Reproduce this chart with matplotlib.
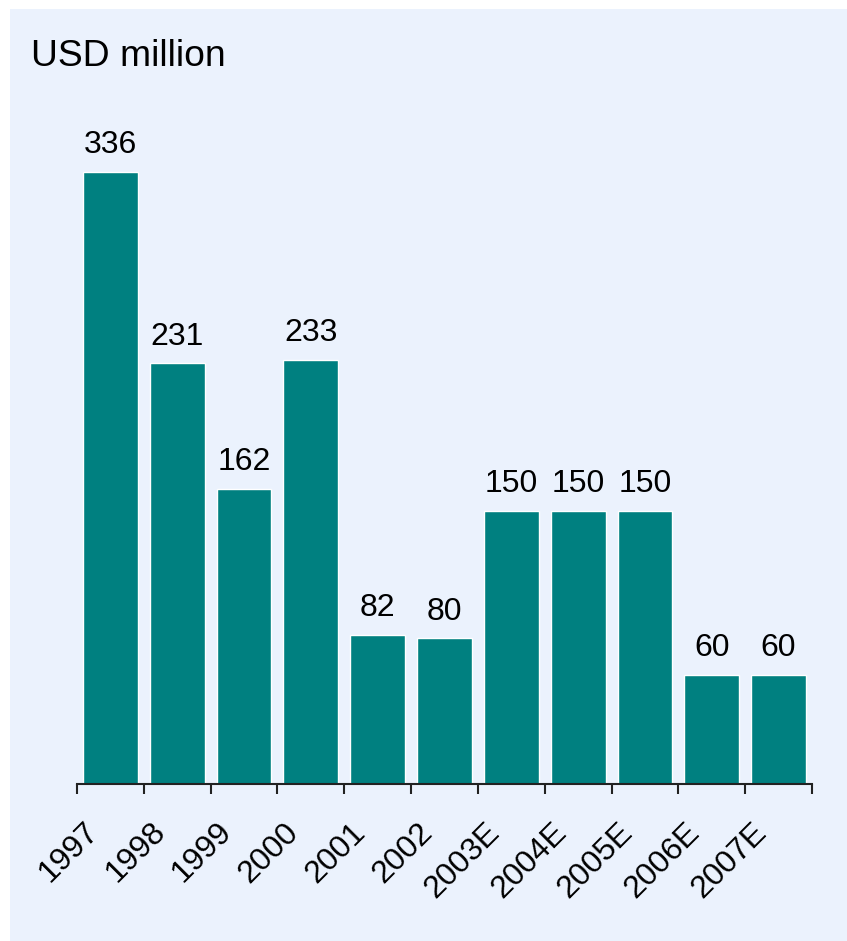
import matplotlib
matplotlib.use("Agg")
import matplotlib.pyplot as plt
from matplotlib.patches import Rectangle
from matplotlib.transforms import ScaledTranslation
import numpy as np

years = ["1997", "1998", "1999", "2000", "2001", "2002", "2003E", "2004E", "2005E", "2006E", "2007E"]
values = [336, 231, 162, 233, 82, 80, 150, 150, 150, 60, 60]

BG = "#EBF2FD"
TEAL = "#008080"

plt.rcParams['font.family'] = ['Liberation Sans', 'DejaVu Sans']

W, H = 847, 941
fig = plt.figure(figsize=(W / 100, H / 100), dpi=100, facecolor="white")
fig.patches.append(Rectangle((10 / W, 0), 1 - 10 / W, 1 - 9 / H, transform=fig.transFigure,
                             facecolor=BG, edgecolor="none", zorder=-10))

left, right = 77 / W, 812 / W
bottom, top = 1 - 784 / H, 1 - 100 / H
ax = fig.add_axes([left, bottom, right - left, top - bottom])
ax.set_facecolor("none")

x = np.arange(len(years))
ax.bar(x, values, width=0.82, color=TEAL, edgecolor="white", linewidth=1.0)
ax.set_xlim(-0.5, len(years) - 0.5)
ax.set_ylim(0, (784 - 100) / 1.821)

for xi, v in zip(x, values):
    ax.annotate(str(v), (xi, v), xytext=(0, 8.5), textcoords="offset points",
                ha="center", va="bottom", fontsize=23)

for s in ["top", "right", "left"]:
    ax.spines[s].set_visible(False)
ax.spines["bottom"].set_color("#222222")
ax.spines["bottom"].set_linewidth(1.5)
ax.set_yticks([])

ax.set_xticks(np.arange(len(years) + 1) - 0.5, minor=True)
ax.tick_params(axis="x", which="minor", length=7, width=1.5, color="#222222")
ax.set_xticks(x)
ax.set_xticklabels([])
ax.tick_params(axis="x", which="major", length=0)

for xi, lab in zip(x, years):
    tr = ax.get_xaxis_transform() + ScaledTranslation(-27 / 100, -33 / 100, fig.dpi_scale_trans)
    ax.text(xi, 0, lab, transform=tr, rotation=45, rotation_mode="anchor",
            ha="right", va="top", fontsize=23)

fig.text(31 / W, 1 - 57 / H, "USD million", fontsize=26.8, ha="left", va="center")

fig.savefig("out.png", dpi=100, facecolor="white")
